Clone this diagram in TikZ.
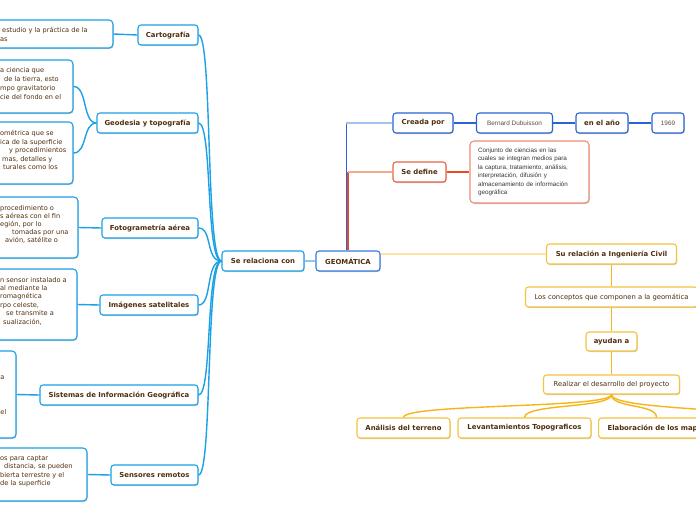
\documentclass[tikz,border=0pt]{standalone}
\usepackage{fontspec}
\setmainfont{DejaVu Sans}
\newfontfamily\arialf{Liberation Sans}
\usetikzlibrary{shadows}
\definecolor{cblue}{RGB}{28,160,230}
\definecolor{gblue}{RGB}{40,100,210}
\definecolor{geoblue}{RGB}{55,120,220}
\definecolor{lblue}{RGB}{140,200,240}
\definecolor{lblueb}{RGB}{160,195,240}
\definecolor{redc}{RGB}{230,75,40}
\definecolor{redb}{RGB}{232,100,65}
\definecolor{salmon}{RGB}{240,140,115}
\definecolor{lorange}{RGB}{245,170,140}
\definecolor{gold}{RGB}{245,182,25}
\definecolor{goldb}{RGB}{245,195,60}
\definecolor{lyellow}{RGB}{253,228,165}
\definecolor{tbrown}{RGB}{80,45,12}
\definecolor{tgrey}{RGB}{95,75,55}
\definecolor{tdark}{RGB}{55,55,55}
\begin{document}
\begin{tikzpicture}[x=1pt,y=-1pt,
  box/.style={rounded corners=3pt, line width=1.1pt, fill=white, minimum height=20pt, inner sep=1pt,
    drop shadow={shadow xshift=0.7pt, shadow yshift=-1pt, opacity=0.22, fill=black}},
  boldtxt/.style={text=tbrown, font=\bfseries\fontsize{6.9}{8}\selectfont},
  plaintxt/.style={text=tbrown, font=\fontsize{6.8}{8}\selectfont},
  bnode/.style={box, draw=cblue, boldtxt},
  cnode/.style={box, draw=gblue, boldtxt},
  anode/.style={box, draw=gblue, text=tgrey, font=\arialf\fontsize{6.4}{8}\selectfont},
  rnode/.style={box, draw=redb, boldtxt},
  ynode/.style={box, draw=goldb, boldtxt},
  ypnode/.style={box, draw=goldb, plaintxt},
  dbox/.style={box, draw=cblue, rounded corners=4pt},
  dtext/.style={anchor=west, inner sep=0pt, align=left, text=tbrown},
  bline/.style={draw=cblue, line width=1.4pt},
  gline/.style={draw=gold, line width=1.4pt}
]
\useasboundingbox (0,0) rectangle (696,520);
\clip (0,0) rectangle (696,520);
\fill[white] (0,0) rectangle (696,520);

% ---------- description boxes (left) ----------
\node[dbox, minimum width=123pt, minimum height=28pt] (cartd) at (51.5,34) {};
\node[dbox, minimum width=83pt, minimum height=53pt] (geod1) at (31.5,86.5) {};
\node[dbox, minimum width=83pt, minimum height=62pt] (geod2) at (31.5,153) {};
\node[dbox, minimum width=88pt, minimum height=61pt] (fotod) at (34,227.5) {};
\node[dbox, minimum width=87pt, minimum height=71pt] (imagd) at (33.5,304.5) {};
\node[dbox, minimum width=26pt, minimum height=87pt] (sigd) at (3,394.5) {};
\node[dbox, minimum width=97pt, minimum height=53pt] (sensd) at (38.5,474.5) {};

\node[dtext, font=\fontsize{6.6}{9}\selectfont] (cartt) at (0,34.5)
  {\hspace*{2pt}estudio y la práctica de la\\as};
\node[dtext, font=\fontsize{6.6}{9}\selectfont] (geod1t) at (0,83.5)
  {a ciencia que\\\hspace*{4pt}de la tierra, esto\\mpo gravitatorio\\cie del fondo en el};
\node[dtext, font=\fontsize{6.6}{8.5}\selectfont] (geod2t) at (0,150)
  {ométrica que se\\ica de la superficie\\\hspace*{9pt}y procedimientos\\\hspace*{2pt}mas, detalles y\\\hspace*{3pt}turales como los};
\node[dtext, font=\fontsize{6.6}{8}\selectfont] (fotot) at (0,224)
  {procedimiento o\\s aéreas con el fin\\egión, por lo\\\hspace*{12pt}tomadas por una\\\hspace*{5pt}avión, satélite o};
\node[dtext, font=\fontsize{6.6}{8.4}\selectfont] (imagt) at (0,301)
  {n sensor instalado a\\al mediante la\\romagnética\\rpo celeste,\\\hspace*{6pt}se transmite a\\\hspace*{3pt}sualización,};
\node[dtext, font=\fontsize{6.6}{8}\selectfont] (sigt1) at (0.3,378) {a};
\node[dtext, font=\fontsize{6.6}{8}\selectfont] (sigt2) at (0.3,412) {el};
\node[dtext, font=\fontsize{6.6}{8.4}\selectfont] (senst) at (0,471.5)
  {os para captar\\\hspace*{4pt}distancia, se pueden\\bierta terrestre y el\\de la superficie};

% ---------- left branch nodes ----------
\node[bnode, minimum width=60pt] (cart) at (168,35) {Cartografía};
\node[bnode, minimum width=101pt] (geod) at (147.5,123) {Geodesia y topografía};
\node[bnode, minimum width=96pt] (foto) at (150,228) {Fotogrametría aérea};
\node[bnode, minimum width=98pt] (imag) at (149,305) {Imágenes satelitales};
\node[bnode, minimum width=158pt] (sig) at (119,395) {Sistemas de Información Geográfica};
\node[bnode, minimum width=87pt] (sens) at (154.5,475) {Sensores remotos};

\node[bnode, minimum width=82pt] (serel) at (263,261) {Se relaciona con};
\node[box, draw=geoblue, boldtxt, minimum width=64pt] (geo) at (348,261) {GEOMÁTICA};

% left connectors
\draw[bline] (cart.west) -- (cartd.east);
\draw[bline] (geod.west) .. controls +(-14,0) and +(14,0) .. (geod1.east);
\draw[bline] (geod.west) .. controls +(-14,0) and +(14,0) .. (geod2.east);
\draw[bline] (foto.west) -- (fotod.east);
\draw[bline] (imag.west) -- (imagd.east);
\draw[bline] (sig.west) -- (sigd.east);
\draw[bline] (sens.west) -- (sensd.east);
\foreach \n in {cart,geod,foto,imag,sig,sens}
  \draw[bline] (\n.east) .. controls +(14,0) and +(-16,0) .. (serel.west);
\draw[draw=lblue, line width=1.2pt] (serel.east) -- (geo.west);

% ---------- upper right ----------
\node[cnode, minimum width=60pt] (creada) at (423,123) {Creada por};
\node[anode, minimum width=76pt] (bern) at (514.5,123) {Bernard Dubuisson};
\node[cnode, minimum width=52pt] (anio) at (602,123) {en el año};
\node[anode, minimum width=32pt] (year) at (668,123) {1969};
\node[rnode, minimum width=53pt] (sedef) at (419.5,172) {Se define};
\node[box, draw=salmon, rounded corners=4pt, minimum width=119pt, minimum height=62pt,
  text width=103pt, inner xsep=8pt, align=left, text=tdark,
  font=\arialf\fontsize{6.3}{8.5}\selectfont] (defn) at (529.5,172)
  {Conjunto de ciencias en las\\cuales se integran medios para\\la captura, tratamiento, análisis,\\interpretación, difusión y\\almacenamiento de información\\geográfica};

\draw[draw=gblue, line width=0.9pt] ([xshift=-1.6pt]geo.north) -- ([xshift=-1.6pt]geo.north |- creada.west);
\draw[draw=lblueb, line width=1.2pt] ([xshift=-1.6pt]geo.north |- creada.west) -- (creada.west);
\draw[draw=redc, line width=2.5pt] (geo.north) -- (geo.north |- sedef.west);
\draw[draw=lorange, line width=1.2pt] (geo.north |- sedef.west) -- (sedef.west);
\draw[draw=gblue, line width=1.3pt] (creada.east) -- (bern.west);
\draw[draw=gblue, line width=1.3pt] (bern.east) -- (anio.west);
\draw[draw=gblue, line width=1.3pt] (anio.east) -- (year.west);
\draw[draw=redc, line width=1.3pt] (sedef.east) -- (defn.west);

% ---------- lower right ----------
\node[ynode, minimum width=130pt] (suyrel) at (611.5,254) {Su relación a Ingeniería Civil};
\node[ypnode, minimum width=172pt] (conc) at (611.5,297) {Los conceptos que componen a la geomática};
\node[ynode, minimum width=51pt, minimum height=19pt] (ayud) at (611.5,341.5) {ayudan a};
\node[ypnode, minimum width=136pt, minimum height=19pt] (real) at (611.5,384.5) {Realizar el desarrollo del proyecto};
\node[ynode, minimum width=93pt] (anal) at (403.5,428) {Análisis del terreno};
\node[ynode, minimum width=133pt] (levt) at (524.5,428) {Levantamientos Topograficos};
\node[ynode, anchor=west, text width=104pt, inner xsep=9pt, align=left] (elab) at (598,428) {Elaboración de los map};
\coordinate (offr) at (790,418);

\draw[draw=lyellow, line width=1.5pt] (suyrel.west -| geo.east) -- (suyrel.west);
\draw[gline] (suyrel.south) -- (conc.north);
\draw[gline] (conc.south) -- (ayud.north);
\draw[gline] (ayud.south) -- (real.north);
\draw[gline] (real.south) .. controls +(0,14) and +(0,-14) .. (anal.north);
\draw[gline] (real.south) .. controls +(0,14) and +(0,-14) .. (levt.north);
\draw[gline] (real.south) .. controls +(0,14) and +(0,-14) .. ([xshift=-3pt]elab.north);
\draw[gline] (real.south) .. controls +(0,14) and +(-60,-10) .. (offr);
\end{tikzpicture}
\end{document}
